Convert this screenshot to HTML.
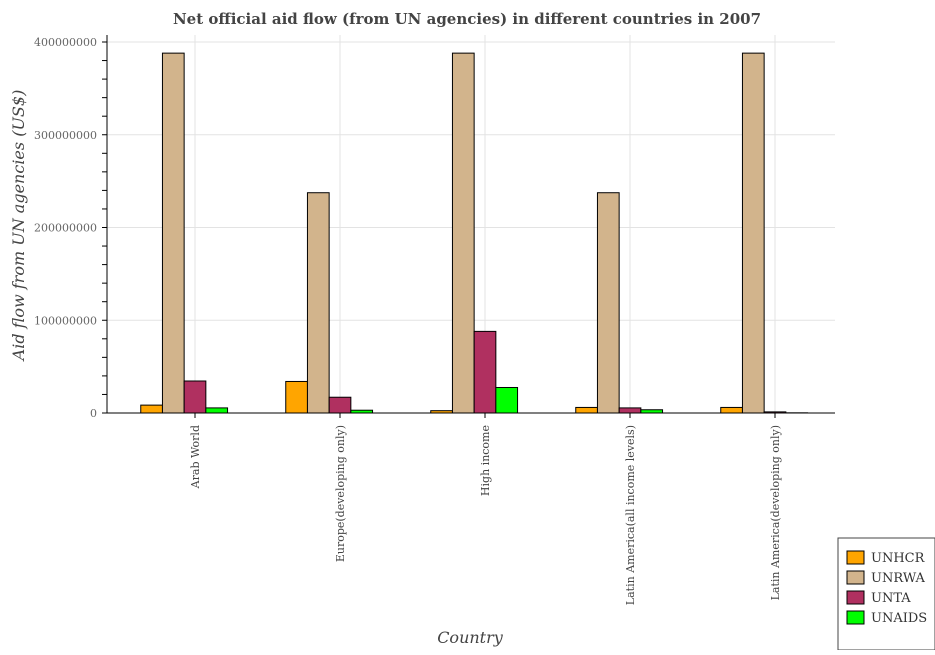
<!DOCTYPE html>
<html><head><meta charset="utf-8"><style>
body{margin:0;background:#fff;}
svg text{font-family:"DejaVu Serif","Liberation Serif",serif;}
</style></head><body>
<svg id="c" width="935" height="650" xmlns="http://www.w3.org/2000/svg">
<text x="467" y="24" text-anchor="middle" font-size="15" font-weight="bold" fill="#444">Net official aid flow (from UN agencies) in different countries in 2007</text>
<text transform="translate(24,225) rotate(-90)" text-anchor="middle" font-size="16" font-style="italic" fill="#444">Aid flow from UN agencies (US$)</text>
<text x="470" y="643" text-anchor="middle" font-size="16" font-style="italic" fill="#444">Country</text>
<g id="grid"></g><g id="bars"></g><g id="axes"></g>
<g>
<rect x="838" y="538" width="97" height="112" fill="#fff" stroke="#444" stroke-width="1"/>
<g id="leg"></g>
</g>
</svg>
<script>
const categories=["Arab World","Europe(developing only)","High income","Latin America(all income levels)","Latin America(developing only)"];
const seriesNames=["UNHCR","UNRWA","UNTA","UNAIDS"];
const colors=["#ffa500","#d2b48c","#b03060","#00ff00"];
const unhcr=[8.5e6,34e6,2.5e6,6e6,6e6];
const unrwa=[388e6,237.5e6,388e6,237.5e6,388e6];
const unta=[34.5e6,17e6,88e6,5.5e6,1.2e6];
const unaids=[5.5e6,3e6,27.5e6,3.5e6,0.2e6];
const yTicks=[0,100000000,200000000,300000000,400000000];
const series=[unhcr,unrwa,unta,unaids];
const NS="http://www.w3.org/2000/svg";
const L=107,R=835,T=35,B=413;
const y=v=>B-v*(B-42)/4e8;
const xc=i=>195+i*145;
const bw=21.7;
function el(t,a,p){const e=document.createElementNS(NS,t);for(const k in a)e.setAttribute(k,a[k]);p.appendChild(e);return e;}
const g=document.getElementById('grid'),b=document.getElementById('bars'),ax=document.getElementById('axes'),lg=document.getElementById('leg');
yTicks.forEach(v=>{
 const l=el('line',{x1:L,x2:R,y1:y(v),y2:y(v),stroke:'#e3e3e3'},g);
 
 
 const t=el('text',{x:L-10,y:y(v)+4,'text-anchor':'end','font-size':'11',fill:'#666'},ax);
 t.textContent=String(v);
 
 
});
for(let v=0;v<=4e8;v+=2e7){el('line',{x1:L-5,x2:L,y1:y(v),y2:y(v),stroke:'#000'},ax);}
categories.forEach((c,i)=>{
 el('line',{x1:xc(i),x2:xc(i),y1:T,y2:B,stroke:'#e3e3e3'},g);
 el('line',{x1:xc(i),x2:xc(i),y1:B,y2:B+5,stroke:'#000'},ax);
 const t=el('text',{transform:`translate(${xc(i)+4},${B+12}) rotate(-90)`,'text-anchor':'end','font-size':'11',fill:'#444'},ax);
 t.textContent=c;
 
 
 series.forEach((s,k)=>{
  const x0=xc(i)+(k-2.5)*bw;
  const r=el('rect',{x:x0,y:y(s[i]),width:bw,height:B-y(s[i]),fill:colors[k],stroke:'#000','stroke-width':'1'},b);
  
  
 });
});
el('line',{x1:L,x2:L,y1:T,y2:B,stroke:'#000'},ax);
el('line',{x1:L,x2:R,y1:B,y2:B,stroke:'#000'},ax);
seriesNames.forEach((n,k)=>{
 const r=el('rect',{x:847,y:551+k*20,width:17,height:13,fill:colors[k],stroke:'#000'},lg);
 
 
 const t=el('text',{x:871,y:562+k*20,'font-size':'13',fill:'#333'},lg);
 t.textContent=n;
 
 
});
</script>
</body></html>
